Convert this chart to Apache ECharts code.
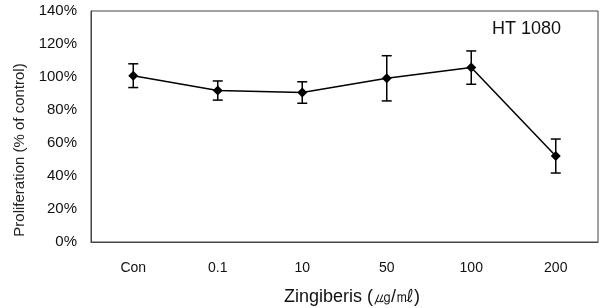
<!DOCTYPE html>
<html lang="en">
<head>
    <meta charset="UTF-8">
    <title></title>
    <script src="https://cdn.jsdelivr.net/npm/echarts@6/dist/echarts.min.js"></script>
</head>
<style>
    html, body { margin: 0; padding: 0; background: #fff; }
    #chart { width: 603px; height: 308px; }
</style>
<body>
<div id="chart"></div>
<script>
    var categories = ['Con', '0.1', '10', '50', '100', '200'];
    var means = [100.8, 91.8, 90.6, 99.2, 105.7, 52.1];
    var errors = [7.2, 5.8, 6.5, 13.7, 10.1, 10.3];
    var yTicks = [0, 20, 40, 60, 80, 100, 120, 140];

    var errData = means.map(function (m, i) {
        return [i, m - errors[i], m + errors[i]];
    });

    var chart = echarts.init(document.getElementById('chart'));
    var font = 'Liberation Sans, Arial, sans-serif';

    option = {
        animation: false,
        grid: {
            left: 91, right: 5, top: 11, bottom: 66,
            show: true, borderColor: '#444', borderWidth: 1
        },
        graphic: [{
            type: 'text',
            left: 492, top: 20,
            style: { text: 'HT 1080', font: '18px ' + font, fill: '#111', letterSpacing: 1.5 }
        }, {
            type: 'text',
            x: 20, y: 150,
            rotation: Math.PI / 2,
            style: {
                text: 'Proliferation (% of control)', font: '15px ' + font, fill: '#222',
                align: 'center', verticalAlign: 'middle', letterSpacing: 1
            }
        }, {
            type: 'text',
            x: 352, y: 297,
            style: {
                text: 'Zingiberis (㎍/㎖)', font: '18px ' + font, fill: '#111',
                align: 'center', verticalAlign: 'middle', letterSpacing: 1
            }
        }],
        xAxis: {
            type: 'category',
            data: categories,
            axisLine: { lineStyle: { color: '#444' } },
            axisTick: { show: false },
            axisLabel: { fontSize: 14, color: '#111', margin: 19, fontFamily: font }
        },
        yAxis: {
            type: 'value',
            min: 0, max: 140, interval: 20,
            axisLine: { show: true, lineStyle: { color: '#444' } },
            axisTick: { show: false },
            splitLine: { show: false },
            axisLabel: {
                fontSize: 15, color: '#111', margin: 14, fontFamily: font,
                formatter: function (v) { return yTicks.indexOf(v) >= 0 ? v + '%' : ''; }
            }
        },
        series: [{
            type: 'line',
            data: means,
            symbol: 'diamond',
            symbolSize: 10,
            itemStyle: { color: '#000' },
            lineStyle: { color: '#000', width: 1.5 },
            z: 3
        }, {
            type: 'custom',
            data: errData,
            renderItem: function (params, api) {
                var lo = api.coord([api.value(0), api.value(1)]);
                var hi = api.coord([api.value(0), api.value(2)]);
                var w = 5;
                var st = { stroke: '#000', lineWidth: 1.5 };
                return {
                    type: 'group',
                    children: [
                        { type: 'line', shape: { x1: lo[0], y1: lo[1], x2: hi[0], y2: hi[1] }, style: st },
                        { type: 'line', shape: { x1: lo[0] - w, y1: lo[1], x2: lo[0] + w, y2: lo[1] }, style: st },
                        { type: 'line', shape: { x1: hi[0] - w, y1: hi[1], x2: hi[0] + w, y2: hi[1] }, style: st }
                    ]
                };
            },
            z: 2
        }]
    };
    chart.setOption(option);
</script>
</body>
</html>
